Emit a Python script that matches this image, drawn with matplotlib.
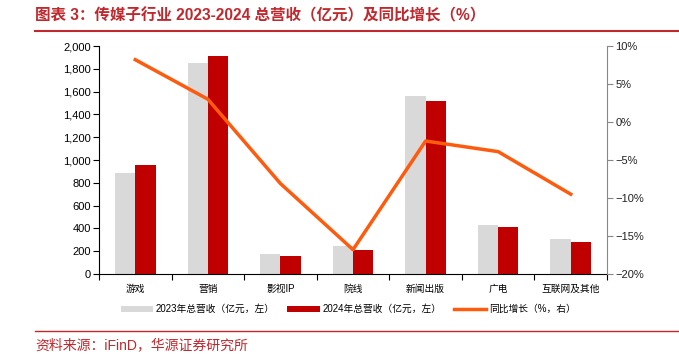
import numpy as np
import matplotlib.pyplot as plt
from matplotlib.ticker import FuncFormatter, FixedLocator

plt.rcParams['font.family'] = ['Liberation Sans', 'Noto Sans CJK SC', 'DejaVu Sans']

# Categories, revenues (亿元) and YoY growth (%)
categories = ['游戏', '营销', '影视IP', '院线', '新闻出版', '广电', '互联网及其他']
rev_2023 = [886, 1853, 172, 248, 1561, 430, 307]
rev_2024 = [955, 1912, 158, 208, 1518, 412, 281]
yoy = [8.2, 3.0, -8.1, -16.8, -2.5, -3.9, -9.5]

fig = plt.figure(figsize=(6.79, 3.54), dpi=100)
ax = fig.add_axes([0.1458, 0.226, 0.7482, 0.644])
ax2 = ax.twinx()

x = np.arange(len(categories))
w = 0.28
ax.bar(x - w / 2, rev_2023, w, color='#D9D9D9', label='2023年总营收（亿元，左）', zorder=2)
ax.bar(x + w / 2, rev_2024, w, color='#C00000', label='2024年总营收（亿元，左）', zorder=2)
ax2.plot(x, yoy, color='#FF5B0F', lw=2.5, label='同比增长（%，右）', zorder=3)

ax.set_xlim(-0.5, len(categories) - 0.5)
ax.set_ylim(0, 2000)
ax.set_yticks(np.arange(0, 2001, 200))
ax.yaxis.set_major_formatter(FuncFormatter(lambda v, p: f'{int(v):,}'))
ax2.set_ylim(-20, 10)
ax2.set_yticks(np.arange(-20, 11, 5))
ax2.yaxis.set_major_formatter(FuncFormatter(lambda v, p: f'{int(v)}%'.replace('-', '−')))

ax.set_xticks(x)
ax.set_xticklabels(categories, fontsize=7)
ax.tick_params(axis='x', length=0, pad=7)
ax.xaxis.set_minor_locator(FixedLocator(np.arange(-0.5, len(categories), 1)))
ax.tick_params(axis='x', which='minor', length=4, width=0.8, direction='out')
ax.tick_params(axis='y', labelsize=8, length=4, width=0.8, direction='out', pad=2)
ax2.tick_params(axis='y', labelsize=8, length=4, width=0.8, direction='out', pad=2,
                color='#888888', labelcolor='#222222')

for a in (ax, ax2):
    a.spines['top'].set_visible(False)
ax.spines['right'].set_visible(False)
ax2.spines['left'].set_visible(False)
ax2.spines['bottom'].set_visible(False)
ax2.spines['right'].set_color('#888888')

h1, l1 = ax.get_legend_handles_labels()
h2, l2 = ax2.get_legend_handles_labels()
fig.legend(h1 + h2, l1 + l2, loc='center', bbox_to_anchor=(0.513, 0.127), ncol=3,
           frameon=False, fontsize=7, handlelength=3.3, handleheight=0.6,
           columnspacing=1.3, handletextpad=0.3)

red = '#C0282D'
fig.text(0.052, 0.955, '图表 3：传媒子行业 2023-2024 总营收（亿元）及同比增长（%）',
         color=red, fontsize=11.2, fontweight='bold', va='center', ha='left')
fig.add_artist(plt.Line2D([0.052, 1.0], [0.912, 0.912], color=red, lw=1.5))
fig.add_artist(plt.Line2D([0.052, 1.0], [0.065, 0.065], color=red, lw=1.0))
fig.text(0.052, 0.025, '资料来源：iFinD，华源证券研究所', color=red, fontsize=10,
         va='center', ha='left')

fig.savefig('out.png', dpi=100)
